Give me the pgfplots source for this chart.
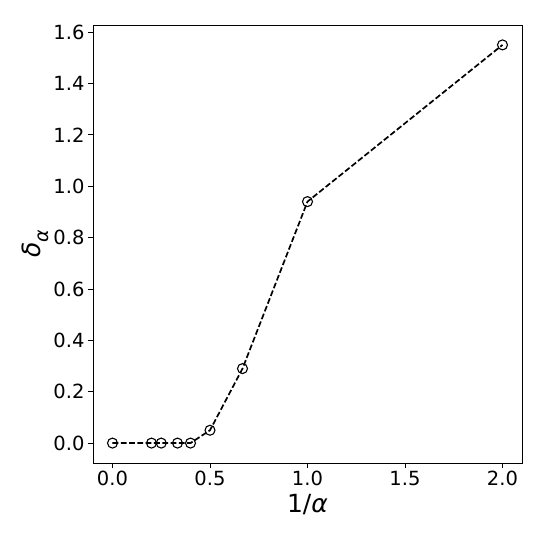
\documentclass[border=0pt]{standalone}
\usepackage{fontspec}
\setmainfont{DejaVu Sans}
\usepackage{pgfplots}
\pgfplotsset{compat=1.18}
\begin{document}
\begin{tikzpicture}
\begin{axis}[
  scale only axis,
  width=429bp, height=438bp,
  xmin=-0.1, xmax=2.1,
  ymin=-0.0775, ymax=1.6275,
  xtick={0,0.5,1,1.5,2},
  ytick={0,0.2,0.4,0.6,0.8,1.0,1.2,1.4,1.6},
  /pgf/number format/assume math mode=true,
  xticklabel style={/pgf/number format/.cd,fixed,fixed zerofill,precision=1},
  yticklabel style={/pgf/number format/.cd,fixed,fixed zerofill,precision=1},
  tick label style={font=\fontsize{19.5bp}{21bp}\selectfont},
  tick align=outside,
  xtick pos=bottom, ytick pos=left,
  major tick length=5bp,
  every tick/.style={black, line width=0.8bp},
  axis line style={line width=0.8bp},
  xlabel={1/{\itshape α}},
  ylabel={{\itshape δ}\raisebox{-0.3em}{\fontsize{19bp}{19bp}\selectfont\itshape α}},
  label style={font=\fontsize{25bp}{27bp}\selectfont},
  xlabel style={yshift=-1bp},
  ylabel style={yshift=-2bp},
]
\addplot[black, line width=1.7bp, dash pattern=on 5.8bp off 2.5bp,
  mark=o, mark size=5bp, mark options={solid, line width=1.1bp}]
coordinates {
(0,0) (0.2,0) (0.25,0) (0.3333,0) (0.4,0) (0.5,0.05) (0.6667,0.29) (1.0,0.94) (2.0,1.55)
};
\end{axis}
\path ([shift={(-93bp,-82bp)}]current axis.south west) rectangle ([shift={(23bp,25bp)}]current axis.north east);
\end{tikzpicture}
\end{document}
